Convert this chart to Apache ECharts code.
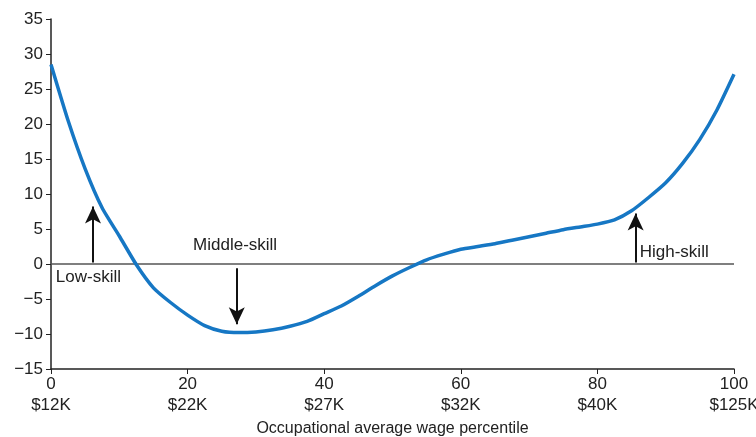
<!DOCTYPE html>
<html><head><meta charset="utf-8">
<script src="https://cdn.jsdelivr.net/npm/echarts@6/dist/echarts.min.js"></script>
<style>html,body{margin:0;padding:0;background:#fff;overflow:hidden}#c{width:756px;height:437px}</style>
</head><body><div id="c"></div>
<script>
const xValues = [0,2.5,5,7.5,10,12.5,15,17.5,20,22.5,25,27.5,30,32.5,35,37.5,40,42.5,45,47.5,50,52.5,55,57.5,60,62.5,65,67.5,70,72.5,75,77.5,80,82.5,85,87.5,90,92.5,95,97.5,100];
const yValues = [28.5,20.5,13.6,8.0,4.0,-0.1,-3.4,-5.5,-7.3,-8.8,-9.6,-9.8,-9.7,-9.4,-8.9,-8.2,-7.1,-6.0,-4.6,-3.1,-1.7,-0.5,0.6,1.4,2.1,2.5,2.9,3.4,3.9,4.4,4.9,5.3,5.7,6.3,7.6,9.5,11.6,14.4,17.8,22.0,27.1];
const xTickLabels = {0:'$12K',20:'$22K',40:'$27K',60:'$32K',80:'$40K',100:'$125K'};
const xTitle = 'Occupational average wage percentile';
const annotations = [
  {name:'Low-skill', text:[0.7,-1.9], arrow:[[6.15,0.2],[6.15,8.2]]},
  {name:'Middle-skill', text:[20.8,2.6], arrow:[[27.2,-0.6],[27.2,-8.6]]},
  {name:'High-skill', text:[86.2,1.7], arrow:[[85.6,0.2],[85.6,7.2]]}
];
const FONT = '"Liberation Sans",Arial,sans-serif';
const chart = echarts.init(document.getElementById('c'));
const lineData = xValues.map((x,i)=>[x,yValues[i]]);
chart.setOption({
  animation:false,
  grid:{left:51,right:22,top:19,bottom:68,containLabel:false,outerBoundsMode:'none'},
  xAxis:{type:'value',min:0,max:100,interval:20,
    name:xTitle,nameLocation:'middle',nameGap:50,
    nameTextStyle:{color:'#222',fontSize:16,fontFamily:FONT},
    axisLine:{show:true,onZero:false,lineStyle:{color:'#222',width:1.5}},
    axisTick:{show:true,length:5,lineStyle:{color:'#222'}},
    splitLine:{show:false},
    axisLabel:{color:'#222',fontSize:17,fontFamily:FONT,lineHeight:21,margin:5,
      formatter:v=>v+'\n'+(xTickLabels[v]||'')}},
  yAxis:{type:'value',min:-15,max:35,interval:5,
    axisLine:{show:true,lineStyle:{color:'#222',width:1.5}},
    axisTick:{show:true,length:5,lineStyle:{color:'#222'}},
    splitLine:{show:false},
    axisLabel:{color:'#222',fontSize:17,fontFamily:FONT,margin:8,
      formatter:v=>v<0?'\u2212'+Math.abs(v):String(v)}},
  series:[
    {type:'line',data:lineData,showSymbol:false,smooth:0.2,
     lineStyle:{color:'#1677c4',width:3.5},z:5,
     markLine:{silent:true,symbol:['none','none'],
       lineStyle:{color:'#555',width:1.5,type:'solid'},label:{show:false},
       data:[[{coord:[0,0]},{coord:[100,0]}]]}},
    {type:'line',data:[],z:6,
     markLine:{silent:true,symbol:['none','arrow'],symbolSize:[12,17],
       lineStyle:{color:'#111',width:2,type:'solid'},label:{show:false},
       data:annotations.map(a=>[{coord:a.arrow[0]},{coord:a.arrow[1]}])},
     markPoint:{silent:true,symbol:'circle',symbolSize:0,
       label:{show:true,position:'right',distance:0,color:'#222',fontSize:17,fontFamily:FONT,
         formatter:p=>p.name},
       data:annotations.map(a=>({name:a.name,coord:a.text}))}}
  ]
});
</script></body></html>
